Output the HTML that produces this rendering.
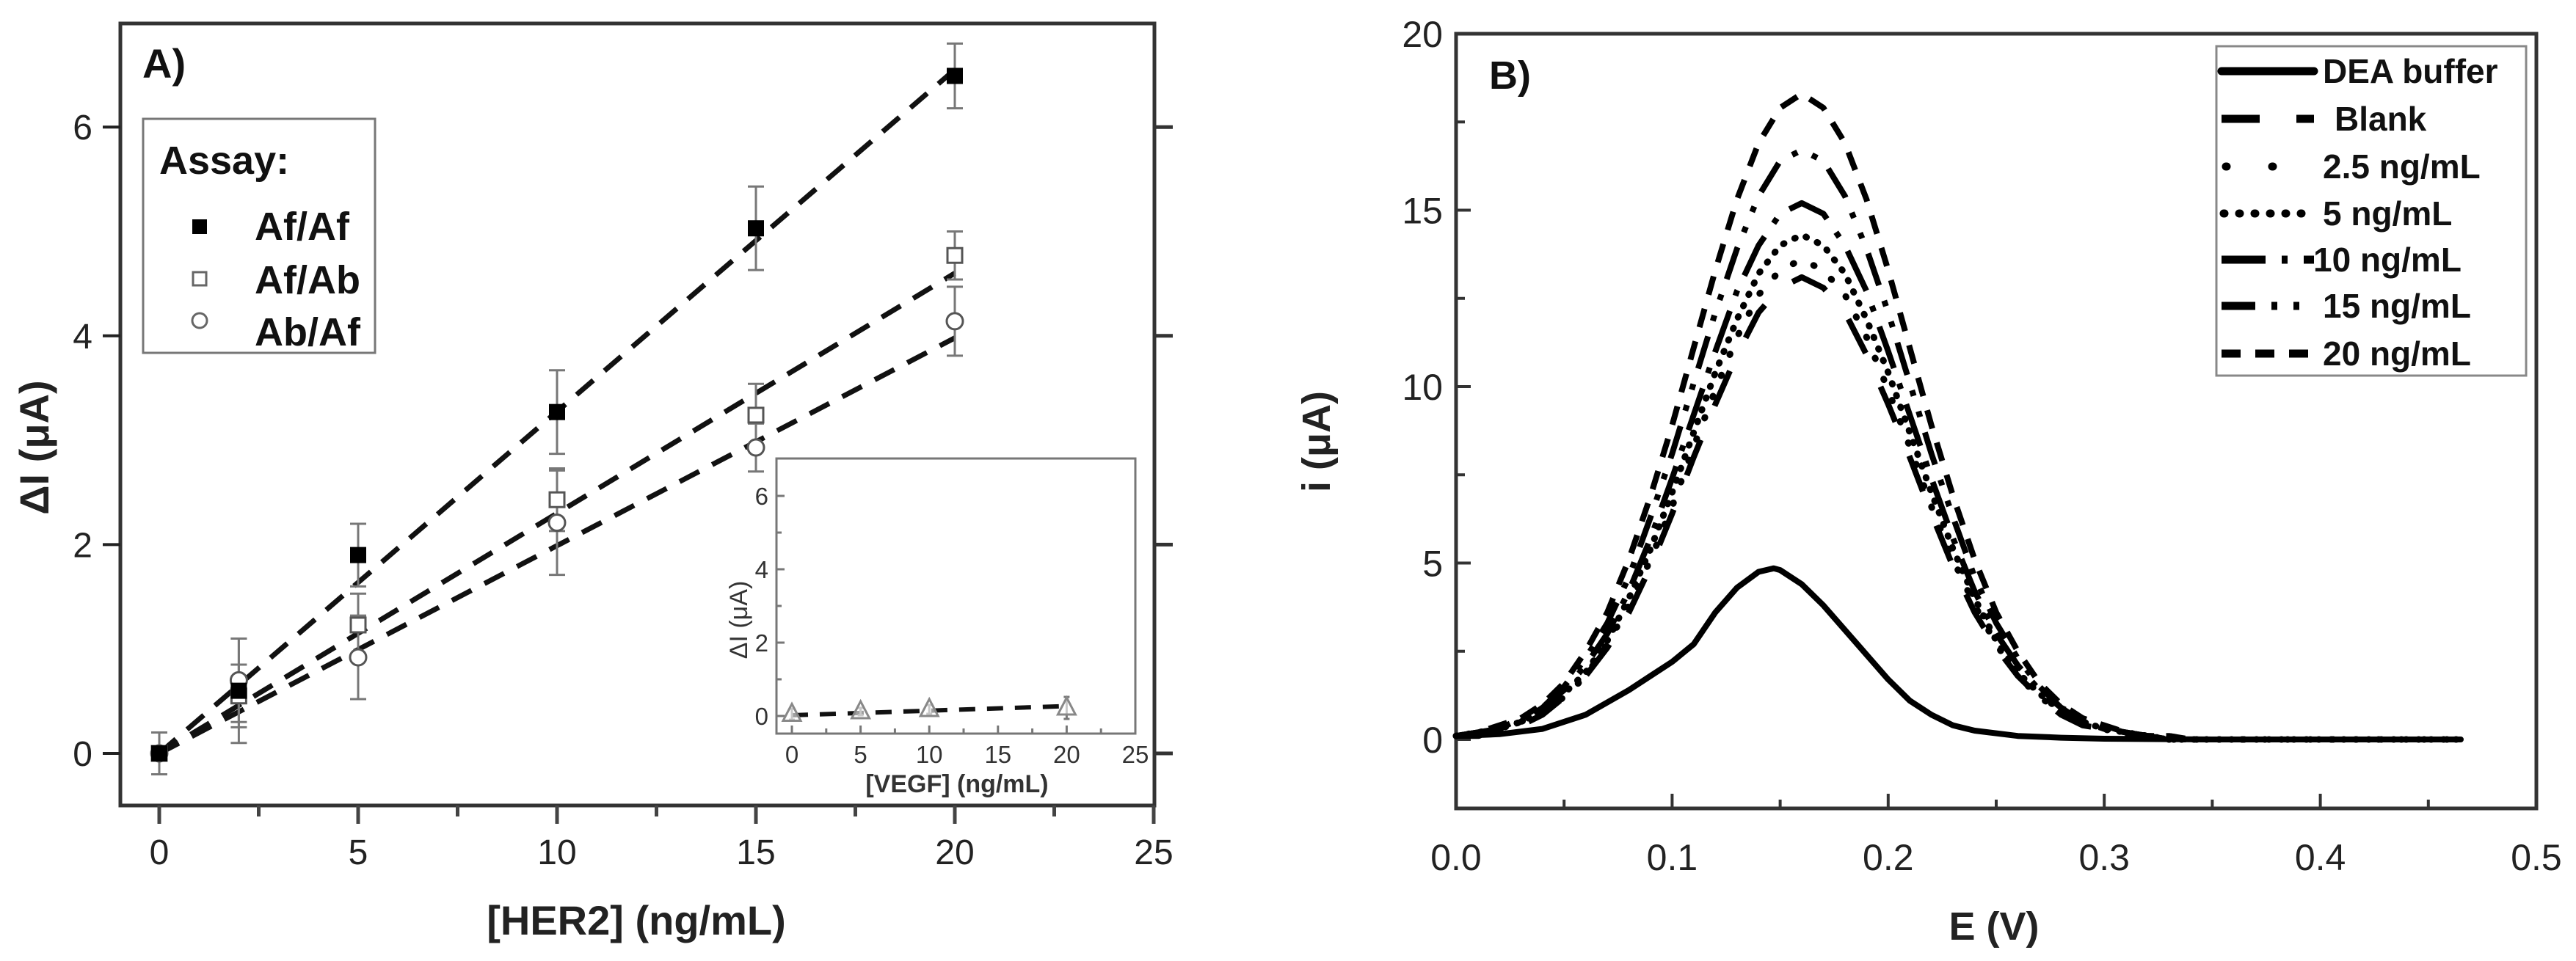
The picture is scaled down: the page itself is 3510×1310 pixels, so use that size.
<!DOCTYPE html>
<html><head><meta charset="utf-8">
<style>
html,body{margin:0;padding:0;background:#fff;}
svg{display:block;font-family:"Liberation Sans",Arial,sans-serif;}
</style></head>
<body>
<svg id="fig" width="3510" height="1310" viewBox="0 0 3510 1310" xmlns="http://www.w3.org/2000/svg">
<rect x="0" y="0" width="3510" height="1310" fill="#fff"/>
<g id="panelA"></g>
<g id="inset"></g>
<g id="panelB"></g>
</svg>
<script>
// ---------- Panel A data ----------
const herConc = [0, 2, 5, 10, 15, 20];
const afafVals = [0, 0.60, 1.90, 3.27, 5.03, 6.49];
const afafErr = [0.2, 0.5, 0.3, 0.4, 0.4, 0.31];
const afabVals = [0, 0.55, 1.23, 2.43, 3.24, 4.77];
const afabErr = [0.2, 0.3, 0.3, 0.3, 0.3, 0.23];
const abafVals = [0, 0.70, 0.92, 2.21, 2.93, 4.14];
const abafErr = [0.2, 0.4, 0.4, 0.5, 0.23, 0.33];
const fitX = [0, 20];
const afafFit = [0, 6.55];
const afabFit = [0, 4.6];
const abafFit = [0, 3.98];
const aXTicks = [0, 5, 10, 15, 20, 25];
const aYTicks = [0, 2, 4, 6];
// inset
const vegfConc = [0, 5, 10, 20];
const vegfVals = [0.05, 0.12, 0.18, 0.22];
const vegfErr = [0.15, 0.1, 0.12, 0.3];
const vegfFit = [0.02, 0.27];
const iXTicks = [0, 5, 10, 15, 20, 25];
const iYTicks = [0, 2, 4, 6];
// ---------- Panel B data ----------
const eVals = [0,0.01,0.02,0.03,0.04,0.05,0.06,0.07,0.08,0.09,0.10,0.11,0.12,0.13,0.14,0.15,0.16,0.17,0.18,0.19,0.20,0.21,0.22,0.23,0.24,0.25,0.26,0.27,0.28,0.29,0.30,0.31,0.32,0.33,0.34,0.40,0.465];
const blankI = [0.1,0.1,0.3,0.4,0.7,1.2,1.8,2.6,3.6,4.9,6.4,8.0,9.5,10.9,12.1,12.8,13.1,12.8,12.1,10.9,9.5,8.0,6.4,4.9,3.6,2.6,1.8,1.2,0.7,0.4,0.3,0.1,0.1,0,0,0,0];
const c25I = [0.1,0.1,0.3,0.5,0.8,1.2,1.8,2.7,3.8,5.1,6.6,8.3,9.9,11.4,12.6,13.3,13.6,13.3,12.6,11.4,9.9,8.3,6.6,5.1,3.8,2.7,1.8,1.2,0.8,0.5,0.3,0.1,0.1,0,0,0,0];
const c5I = [0.1,0.2,0.3,0.5,0.8,1.3,1.9,2.8,4.0,5.4,7.0,8.7,10.4,11.9,13.2,14.0,14.3,14.0,13.2,11.9,10.4,8.7,7.0,5.4,4.0,2.8,1.9,1.3,0.8,0.5,0.3,0.2,0.1,0,0,0,0];
const c10I = [0.1,0.2,0.3,0.5,0.9,1.4,2.1,3.0,4.2,5.7,7.4,9.2,11.0,12.7,14.0,14.9,15.2,14.9,14.0,12.7,11.0,9.2,7.4,5.7,4.2,3.0,2.1,1.4,0.9,0.5,0.3,0.2,0.1,0,0,0,0];
const c15I = [0.1,0.2,0.3,0.6,0.9,1.5,2.3,3.3,4.6,6.3,8.1,10.1,12.1,13.9,15.4,16.4,16.7,16.4,15.4,13.9,12.1,10.1,8.1,6.3,4.6,3.3,2.3,1.5,0.9,0.6,0.3,0.2,0.1,0.1,0,0,0];
const c20I = [0.1,0.2,0.4,0.6,1.0,1.6,2.5,3.6,5.1,6.9,8.9,11.1,13.3,15.3,16.9,17.9,18.3,17.9,16.9,15.3,13.3,11.1,8.9,6.9,5.1,3.6,2.5,1.6,1.0,0.6,0.4,0.2,0.1,0.1,0,0,0];
const deaE = [0,0.02,0.04,0.06,0.08,0.09,0.10,0.11,0.12,0.13,0.14,0.147,0.15,0.16,0.17,0.18,0.19,0.20,0.21,0.22,0.23,0.24,0.26,0.28,0.30,0.35,0.465];
const deaI = [0.1,0.15,0.3,0.7,1.4,1.8,2.2,2.7,3.6,4.3,4.75,4.85,4.8,4.4,3.8,3.1,2.4,1.7,1.1,0.7,0.4,0.25,0.1,0.05,0.02,0,0];
const bXTicks = [0, 0.1, 0.2, 0.3, 0.4, 0.5];
const bXLabels = ["0.0","0.1","0.2","0.3","0.4","0.5"];
const bYTicks = [0, 5, 10, 15, 20];
const legendNames = ["DEA buffer","Blank","2.5 ng/mL","5 ng/mL","10 ng/mL","15 ng/mL","20 ng/mL"];

const NS = "http://www.w3.org/2000/svg";
function mk(parent, tag, attrs, text) {
  const e = document.createElementNS(NS, tag);
  for (const k in attrs) e.setAttribute(k, attrs[k]);
  if (text !== undefined) e.textContent = text;
  parent.appendChild(e);
  return e;
}
// scales
const xA = v => 217 + v * 54.2;
const yA = v => 1027 - v * 142.3;
const xI = v => 1079 + v * 18.72;
const yI = v => 976 - v * 50;
const xB = v => 1984 + v * 2944;
const yB = v => 1008 - v * 48.1;

// ====== Panel A ======
const A = document.getElementById('panelA');
let el;
el = mk(A, 'rect', {x:164, y:32, width:1409, height:1066, fill:'none', stroke:'#333', 'stroke-width':5});


for (let v = 0; v <= 25; v += 2.5) {
  const major = (v % 5 === 0);
  el = mk(A, 'line', {x1:xA(v), x2:xA(v), y1:1098, y2:1098 + (major ? 25 : 15), stroke:'#444', 'stroke-width':5});
  
  
}
aXTicks.forEach(v => {
  el = mk(A, 'text', {x:xA(v), y:1178, 'font-size':48, 'text-anchor':'middle', fill:'#222'}, String(v));
  
  
});
aYTicks.forEach(v => {
  el = mk(A, 'line', {x1:140, x2:164, y1:yA(v), y2:yA(v), stroke:'#222', 'stroke-width':4});
  
  
  el = mk(A, 'line', {x1:1573, x2:1598, y1:yA(v), y2:yA(v), stroke:'#333', 'stroke-width':5});
  
  
  el = mk(A, 'text', {x:126, y:yA(v) + 17, 'font-size':48, 'text-anchor':'end', fill:'#222'}, String(v));
  
  
});
el = mk(A, 'text', {x:867, y:1274, 'font-size':56, 'font-weight':'bold', 'text-anchor':'middle', fill:'#222'}, '[HER2] (ng/mL)');


el = mk(A, 'text', {x:0, y:0, 'font-size':56, 'font-weight':'bold', 'text-anchor':'middle', fill:'#222', transform:'translate(66,610) rotate(-90)'}, 'ΔI (μA)');


el = mk(A, 'text', {x:194, y:106, 'font-size':56, 'font-weight':'bold', fill:'#111'}, 'A)');



// fit lines
[[afafFit,'fit-afaf'],[afabFit,'fit-afab'],[abafFit,'fit-abaf']].forEach(([f, n]) => {
  el = mk(A, 'line', {x1:xA(fitX[0]), y1:yA(f[0]), x2:xA(fitX[1]), y2:yA(f[1]), stroke:'#111', 'stroke-width':7, 'stroke-dasharray':'30 20'});
  
  
});
function errbar(g, x, y, e, sx, sy, cap) {
  el = mk(g, 'path', {d:`M${sx(x)},${sy(y-e)}V${sy(y+e)}M${sx(x)-cap},${sy(y-e)}h${2*cap}M${sx(x)-cap},${sy(y+e)}h${2*cap}`, stroke:'#777', 'stroke-width':3, fill:'none'});
  
  
}
herConc.forEach((c, i) => {
  errbar(A, c, afafVals[i], afafErr[i], xA, yA, 11);
  errbar(A, c, afabVals[i], afabErr[i], xA, yA, 11);
  errbar(A, c, abafVals[i], abafErr[i], xA, yA, 11);
});
herConc.forEach((c, i) => {
  el = mk(A, 'circle', {cx:xA(c), cy:yA(abafVals[i]), r:11, fill:'#fff', stroke:'#555', 'stroke-width':3});
  
  
  el = mk(A, 'rect', {x:xA(c)-10, y:yA(afabVals[i])-10, width:20, height:20, fill:'#fff', stroke:'#555', 'stroke-width':3});
  
  
  el = mk(A, 'rect', {x:xA(c)-11, y:yA(afafVals[i])-11, width:22, height:22, fill:'#000'});
  
  
});
// legend A
const LA = mk(A, 'g', {});


mk(LA, 'rect', {x:195, y:162, width:316, height:319, fill:'#fff', stroke:'#777', 'stroke-width':3});
el = mk(LA, 'text', {x:217, y:237, 'font-size':54, 'font-weight':'bold', fill:'#111'}, 'Assay:');


el = mk(LA, 'rect', {x:262, y:299, width:20, height:20, fill:'#000'});


el = mk(LA, 'rect', {x:263, y:371, width:18, height:18, fill:'#fff', stroke:'#666', 'stroke-width':3});


el = mk(LA, 'circle', {cx:272, cy:437, r:10, fill:'#fff', stroke:'#666', 'stroke-width':3});


[['Af/Af',327],['Af/Ab',400],['Ab/Af',471]].forEach(([t, y]) => {
  el = mk(LA, 'text', {x:347, y:y, 'font-size':54, 'font-weight':'bold', fill:'#111'}, t);
  
  
});

// ====== Inset ======
const I = document.getElementById('inset');
el = mk(I, 'rect', {x:1058, y:625, width:489, height:375, fill:'#fff', stroke:'#777', 'stroke-width':3});


for (let v = 0; v <= 25; v += 2.5) {
  el = mk(I, 'line', {x1:xI(v), x2:xI(v), y1:1000, y2:v % 5 === 0 ? 989 : 993, stroke:'#777', 'stroke-width':3});
  
  
}
for (let v = 0; v <= 6; v += 1) {
  el = mk(I, 'line', {x1:1058, x2:v % 2 === 0 ? 1069 : 1065, y1:yI(v), y2:yI(v), stroke:'#777', 'stroke-width':3});
  
  
}
iXTicks.forEach(v => {
  el = mk(I, 'text', {x:xI(v), y:1040, 'font-size':33, 'text-anchor':'middle', fill:'#333'}, String(v));
  
  
});
iYTicks.forEach(v => {
  el = mk(I, 'text', {x:1047, y:yI(v) + 12, 'font-size':33, 'text-anchor':'end', fill:'#333'}, String(v));
  
  
});
el = mk(I, 'text', {x:1304, y:1080, 'font-size':34, 'font-weight':'bold', 'text-anchor':'middle', fill:'#333'}, '[VEGF] (ng/mL)');


el = mk(I, 'text', {x:0, y:0, 'font-size':34, 'text-anchor':'middle', fill:'#333', transform:'translate(1018,845) rotate(-90)'}, 'ΔI (μA)');


el = mk(I, 'line', {x1:xI(0), y1:yI(vegfFit[0]), x2:xI(20), y2:yI(vegfFit[1]), stroke:'#111', 'stroke-width':6, 'stroke-dasharray':'22 16'});


vegfConc.forEach((c, i) => {
  errbar(I, c, vegfVals[i], vegfErr[i], xI, yI, 4);
  const x = xI(c), y = yI(vegfVals[i]);
  el = mk(I, 'polygon', {points:`${x},${y-14} ${x+12},${y+9} ${x-12},${y+9}`, fill:'#fff', 'fill-opacity':0.6, stroke:'#888', 'stroke-width':3});
  
  
});

// ====== Panel B ======
const B = document.getElementById('panelB');
el = mk(B, 'rect', {x:1984, y:46, width:1472, height:1056, fill:'none', stroke:'#333', 'stroke-width':5});


for (let k = 0; k <= 10; k++) {
  const v = k * 0.05;
  el = mk(B, 'line', {x1:xB(v), x2:xB(v), y1:1102, y2:1102 - (k % 2 === 0 ? 20 : 12), stroke:'#333', 'stroke-width':4});
  
  
}
for (let k = -0; k <= 8; k++) {
  const v = k * 2.5;
  el = mk(B, 'line', {x1:1984, x2:1984 + (k % 2 === 0 ? 20 : 12), y1:yB(v), y2:yB(v), stroke:'#333', 'stroke-width':4});
  
  
}
bXTicks.forEach((v, i) => {
  el = mk(B, 'text', {x:xB(v), y:1186, 'font-size':50, 'text-anchor':'middle', fill:'#222'}, bXLabels[i]);
  
  
});
bYTicks.forEach(v => {
  el = mk(B, 'text', {x:1966, y:yB(v) + 18, 'font-size':50, 'text-anchor':'end', fill:'#222'}, String(v));
  
  
});
el = mk(B, 'text', {x:2717, y:1281, 'font-size':54, 'font-weight':'bold', 'text-anchor':'middle', fill:'#222'}, 'E (V)');


el = mk(B, 'text', {x:0, y:0, 'font-size':54, 'font-weight':'bold', 'text-anchor':'middle', fill:'#222', transform:'translate(1812,602) rotate(-90)'}, 'i (μA)');


el = mk(B, 'text', {x:2029, y:121, 'font-size':54, 'font-weight':'bold', fill:'#111'}, 'B)');



const dashes = ['', '52 50', '8 54', '8 12', '60 22 8 22', '46 22 8 22 8 22', '26 20'];
const caps = ['round','butt','round','round','butt','butt','butt'];
const seriesY = [deaI, blankI, c25I, c5I, c10I, c15I, c20I];
const seriesNames = ['curve-dea-buffer','curve-blank','curve-2-5','curve-5','curve-10','curve-15','curve-20'];
seriesY.forEach((ys, s) => {
  const xs = s === 0 ? deaE : eVals;
  const d = xs.map((x, i) => (i ? 'L' : 'M') + xB(x).toFixed(1) + ',' + yB(ys[i]).toFixed(1)).join('');
  const attrs = {d:d, fill:'none', stroke:'#000', 'stroke-width':8, 'stroke-linejoin':'round', 'stroke-linecap':caps[s]};
  if (dashes[s]) attrs['stroke-dasharray'] = dashes[s];
  if (s === 2 || s === 3) attrs['stroke-dasharray'] = s === 2 ? '1 30' : '1 16';
  if (s === 2 || s === 3) attrs['stroke-width'] = 9;
  el = mk(B, 'path', attrs);
  
  
});
// legend B
const LB = mk(B, 'g', {});


mk(LB, 'rect', {x:3020, y:63, width:422, height:449, fill:'#fff', stroke:'#888', 'stroke-width':3});
const legBase = [113, 178, 243, 307, 370, 433, 498];
const legX = [3165, 3181, 3165, 3165, 3152, 3165, 3165];
legendNames.forEach((n, i) => {
  const cy = legBase[i] - 16;
  const attrs = {x1:3027, x2:3153, y1:cy, y2:cy, stroke:'#000', 'stroke-width':11, 'stroke-linecap':caps[i]};
  if (dashes[i]) attrs['stroke-dasharray'] = dashes[i];
  if (i === 2) { attrs['stroke-dasharray'] = '1 62'; attrs['x1'] = 3033; }
  if (i === 3) { attrs['stroke-dasharray'] = '1 20'; attrs['x1'] = 3030; attrs['x2'] = 3136; }
  el = mk(LB, 'line', attrs);
  
  
  el = mk(LB, 'text', {x:legX[i], y:legBase[i], 'font-size':46, 'font-weight':'bold', fill:'#111'}, n);
  
  
});
</script>
</body></html>
